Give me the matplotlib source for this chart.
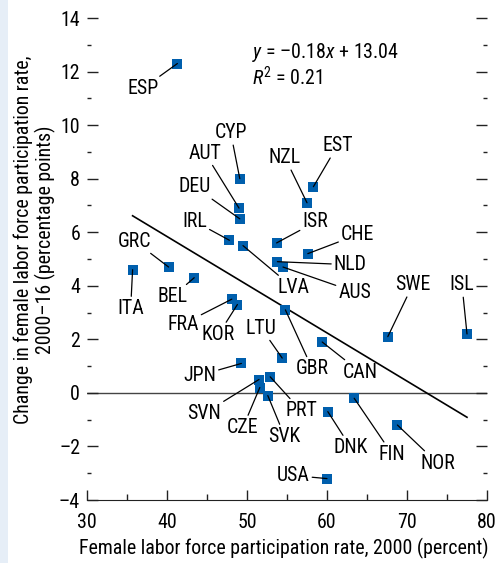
import matplotlib
matplotlib.use("Agg")
import matplotlib.pyplot as plt
import matplotlib.patches as mpatches
import numpy as np

countries = ["ESP", "CYP", "AUT", "DEU", "EST", "NZL", "IRL", "LVA", "ISR", "CHE",
             "NLD", "AUS", "GRC", "ITA", "BEL", "FRA", "KOR", "GBR", "SWE", "ISL",
             "CAN", "LTU", "JPN", "PRT", "SVN", "CZE", "SVK", "FIN", "DNK", "NOR", "USA"]
lfp_2000 = [41.3, 49.1, 49.0, 49.1, 58.3, 57.5, 47.8, 49.5, 53.7, 57.6,
            53.8, 54.5, 40.2, 35.7, 43.4, 48.1, 48.8, 54.8, 67.6, 77.5,
            59.4, 54.4, 49.3, 52.9, 51.5, 51.6, 52.6, 63.4, 60.1, 68.8, 60.0]
change_00_16 = [12.3, 8.0, 6.9, 6.5, 7.7, 7.1, 5.7, 5.5, 5.6, 5.2,
                4.9, 4.7, 4.7, 4.6, 4.3, 3.5, 3.3, 3.1, 2.1, 2.2,
                1.9, 1.3, 1.1, 0.6, 0.5, 0.2, -0.1, -0.2, -0.7, -1.2, -3.2]

# trend line from the printed equation
slope = -0.18
intercept = 13.04
fit_x = [35.7, 77.5]

# label offsets (points) from each marker
label_off = {
    "ESP": (-25, -18), "CYP": (-6.5, 33), "AUT": (-24.5, 39.6), "DEU": (-32.4, 23),
    "IRL": (-25.2, 13.7), "LVA": (36, -30.2), "GRC": (-24.5, 18.7), "ITA": (-1.4, -28),
    "BEL": (-15.8, -13.7), "FRA": (-35.3, -18), "KOR": (-13.7, -21.6), "LTU": (-15.1, 21.6),
    "NZL": (-15.8, 32.4), "EST": (17.3, 29.5), "ISR": (28, 15.1), "CHE": (36, 13.7),
    "NLD": (52.6, -2.2), "AUS": (51.8, -18), "GBR": (19.4, -42.5), "SWE": (18, 37.4),
    "ISL": (-3.6, 35.3), "CAN": (27.4, -21.6), "JPN": (-30.2, -8.6), "SVN": (-39.6, -24.5),
    "CZE": (-12.2, -28.8), "SVK": (12.2, -29.5), "PRT": (22.3, -24.5), "FIN": (27.4, -40.3),
    "DNK": (16.6, -25.9), "NOR": (28.8, -27.4), "USA": (-24.5, 2.2),
}

plt.rcParams['font.family'] = ['Roboto Condensed', 'DejaVu Sans']
plt.rcParams['mathtext.fontset'] = 'custom'
plt.rcParams['mathtext.rm'] = 'Roboto Condensed'
plt.rcParams['mathtext.it'] = 'Roboto Condensed:italic'
fs = 14.3

fig = plt.figure(figsize=(4.98, 5.63), dpi=100)
fig.patches.append(mpatches.Rectangle((0, 0), 8 / 498, 1, transform=fig.transFigure,
                                      facecolor='#e6eef7', edgecolor='none'))
ax = fig.add_axes([87 / 498, 1 - 500 / 563, 400 / 498, 482 / 563])

ax.axhline(0, color='#444444', lw=1.0, zorder=1)
fx = np.array(fit_x)
ax.plot(fx, slope * fx + intercept, color='black', lw=1.2, zorder=2)

ax.scatter(lfp_2000, change_00_16, marker='s', s=52, color='#005fad', zorder=3, linewidths=0)

for c, xv, yv in zip(countries, lfp_2000, change_00_16):
    ax.annotate(c, (xv, yv), xytext=label_off[c], textcoords='offset points',
                ha='center', va='center', fontsize=fs,
                arrowprops=dict(arrowstyle='-', color='black', lw=0.9,
                                shrinkA=0, shrinkB=0))

ax.text(50.6, 12.7, r"$y$ = –0.18$x$ + 13.04", fontsize=fs, ha='left', va='center')
ax.text(50.6, 11.76, r"$R^2$ = 0.21", fontsize=fs, ha='left', va='center')

ax.set_xlim(30, 80)
ax.set_ylim(-4, 14)
for s in ['top', 'right', 'left']:
    ax.spines[s].set_visible(False)
ax.spines['bottom'].set_color('#222222')

ax.set_xticks(np.arange(30, 81, 10))
ax.set_xticks(np.arange(35, 80, 10), minor=True)
ax.set_yticks(np.arange(-4, 15, 2))
ax.set_yticks(np.arange(-3, 14, 2), minor=True)
ax.set_yticklabels([str(v).replace('-', '–') for v in range(-4, 15, 2)])
ax.tick_params(axis='x', which='major', direction='in', length=7, width=1, pad=9,
               labelsize=fs, color='#222222')
ax.tick_params(axis='x', which='minor', direction='in', length=4, width=1, color='#222222')
ax.tick_params(axis='y', which='major', direction='in', length=8, width=1, pad=5,
               labelsize=fs, right=True, color='#222222')
ax.tick_params(axis='y', which='minor', direction='in', length=3, width=1,
               right=True, color='#222222')

fig.text(284 / 498, 1 - 548 / 563, "Female labor force participation rate, 2000 (percent)",
         ha='center', va='center', fontsize=fs)
fig.text(35 / 498, 1 - 240 / 563,
         "Change in female labor force participation rate,\n2000–16 (percentage points)",
         ha='center', va='center', rotation=90, fontsize=fs, multialignment='center',
         linespacing=1.1)

plt.savefig("out.png", dpi=100)
